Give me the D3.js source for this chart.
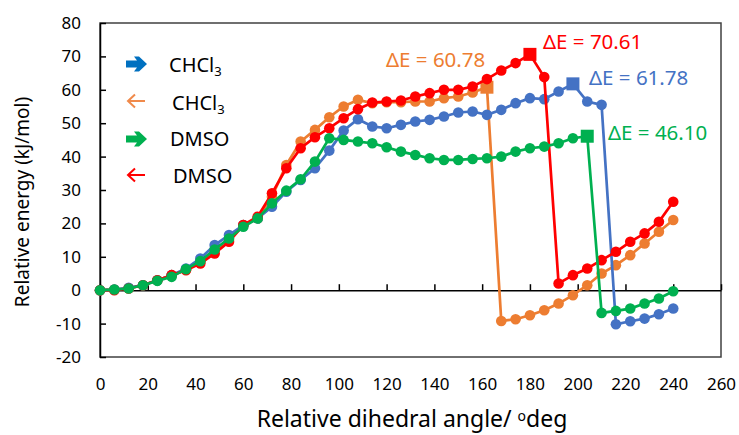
<!DOCTYPE html>
<html>
<head>
<meta charset="utf-8">
<script src="https://cdn.jsdelivr.net/npm/d3@7"></script>
<style>
    body { margin: 0; background: #fff; }
    svg { font-family: "Noto Sans", "Open Sans", sans-serif; }
</style>
</head>
<body>
<svg id="chart" width="739" height="435"></svg>
<script>
// dihedral angles, 6 deg steps
const angles = [0, 6, 12, 18, 24, 30, 36, 42, 48, 54, 60, 66, 72, 78, 84, 90, 96, 102, 108, 114,
    120, 126, 132, 138, 144, 150, 156, 162, 168, 174, 180, 186, 192, 198, 204, 210, 216, 222, 228, 234, 240];

// energies (kJ/mol)
const chcl3Fwd = [0, 0.2, 0.7, 1.5, 3, 4.5, 6.5, 9.5, 13.5, 16.5, 19.5, 21.5, 25, 29.5, 33, 36.5, 41.8, 47.8, 51.2, 49,
    48.5, 49.5, 50.5, 51, 52, 53.2, 53.5, 52.5, 54, 56, 57.5, 57.2, 59.5, 61.78, 56.5, 55.5, -10.2, -9.3, -8.5, -7.2, -5.5];
const chcl3Rev = [0, 0.2, 0.6, 1.5, 3, 4.5, 6.2, 8.5, 12, 15, 19.5, 21.5, 28, 37.5, 44.5, 48, 51.8, 55, 57, 56,
    56.3, 56.3, 56.5, 56.5, 57.5, 58, 59.2, 60.78, -9.2, -8.7, -7.5, -6, -4, -1.5, 1.5, 5, 7.5, 10.5, 14, 17.5, 21];
const dmsoRev = [0, 0, 0.5, 1.5, 3, 4.5, 6, 8, 11, 14.5, 19.5, 22, 29, 36.5, 42.5, 45.8, 48.5, 51.5, 54.2, 56.2,
    56.5, 56.8, 58, 59, 60, 60, 61, 63.2, 65.8, 68, 70.61, 63.8, 2, 4.5, 6.5, 9, 11.5, 14.5, 17, 20.5, 26.5];
const dmsoFwd = [0, 0.2, 0.5, 1.5, 2.8, 4, 6.3, 8.7, 12.2, 15.5, 19, 21.5, 26, 29.8, 33.2, 38.5, 45.5, 45, 44.5, 44,
    42.8, 41.5, 40.5, 39.5, 39, 39, 39.3, 39.5, 40, 41.5, 42.5, 43, 44, 45.5, 46.1, -6.8, -6.2, -5.5, -4, -2.5, -0.3];

const xTicks = [0, 20, 40, 60, 80, 100, 120, 140, 160, 180, 200, 220, 240, 260];
const yTicks = [-20, -10, 0, 10, 20, 30, 40, 50, 60, 70, 80];

// drawing order: orange, blue, red, green
const series = [
    {name: "CHCl3", dir: "rev", values: chcl3Rev, color: "#ED7D31", label: "\u0394E = 60.78", lx: 386, ly: 67},
    {name: "CHCl3", dir: "fwd", values: chcl3Fwd, color: "#4472C4", label: "\u0394E = 61.78", lx: 589, ly: 85},
    {name: "DMSO", dir: "rev", values: dmsoRev, color: "#FF0000", label: "\u0394E = 70.61", lx: 543, ly: 49},
    {name: "DMSO", dir: "fwd", values: dmsoFwd, color: "#00B050", label: "\u0394E = 46.10", lx: 608, ly: 140}
];

const legendItems = [
    {text: "CHCl", sub: "3", heavy: true, color: "#0070C0", cy: 64, tx: 169, ty: 72},
    {text: "CHCl", sub: "3", heavy: false, color: "#F08A4B", cy: 101, tx: 172, ty: 110},
    {text: "DMSO", sub: "", heavy: true, color: "#00B050", cy: 139, tx: 170, ty: 146},
    {text: "DMSO", sub: "", heavy: false, color: "#FF0000", cy: 175, tx: 173, ty: 183}
];

const svg = d3.select("#chart");
const x = d3.scaleLinear().domain([0, 260]).range([100, 721]);
const y = d3.scaleLinear().domain([-20, 80]).range([357, 23]);
const plain = function (d) { return String(d); };  // keep "-" not the unicode minus

// plot area frame
svg.append("rect")
    .attr("x", x(0)).attr("y", y(80))
    .attr("width", x(260) - x(0)).attr("height", y(-20) - y(80))
    .attr("fill", "none").attr("stroke", "#404040").attr("stroke-width", 1.5);

// y axis, ticks pointing inward
const yAxis = svg.append("g")
    .attr("transform", "translate(" + x(0) + ",0)")
    .call(d3.axisLeft(y).tickValues(yTicks).tickFormat(plain).tickSizeInner(-6).tickSizeOuter(0).tickPadding(19));
yAxis.select(".domain").attr("stroke", "#000").attr("stroke-width", 1.5);
yAxis.selectAll(".tick line").attr("stroke", "#000").attr("stroke-width", 1.5);
yAxis.selectAll("text").attr("font-size", 17).attr("fill", "#000").attr("font-family", "Noto Sans");

// x axis line sits on zero, labels below the frame
const xAxis = svg.append("g")
    .attr("transform", "translate(0," + y(0) + ")")
    .call(d3.axisBottom(x).tickValues(xTicks).tickSizeInner(-6).tickSizeOuter(0).tickFormat(""));
xAxis.select(".domain").attr("stroke", "#000").attr("stroke-width", 1.5);
xAxis.selectAll(".tick line").attr("stroke", "#000").attr("stroke-width", 1.5);

const xLabels = svg.append("g")
    .attr("transform", "translate(0," + y(-20) + ")")
    .call(d3.axisBottom(x).tickValues(xTicks).tickFormat(plain).tickSize(0).tickPadding(21));
xLabels.select(".domain").remove();
xLabels.selectAll("text").attr("font-size", 17).attr("fill", "#000").attr("font-family", "Noto Sans");

// axis titles
svg.append("text")
    .attr("transform", "translate(29,202) rotate(-90)")
    .attr("text-anchor", "middle")
    .attr("font-size", 19)
    .text("Relative energy (kJ/mol)");

const xt = svg.append("text")
    .attr("x", 412).attr("y", 427)
    .attr("text-anchor", "middle")
    .attr("font-size", 23);
xt.append("tspan").text("Relative dihedral angle/ ");
xt.append("tspan").attr("font-size", 14).attr("dy", -6).text("o");
xt.append("tspan").attr("dy", 6).text("deg");

// series
const line = d3.line()
    .x(function (d) { return x(d.a); })
    .y(function (d) { return y(d.v); });

series.forEach(function (s) {
    const g = svg.append("g");
    const peak = d3.maxIndex(s.values);
    const pts = s.values.map(function (v, i) { return {a: angles[i], v: v, i: i}; });
    g.append("path")
        .datum(pts)
        .attr("d", line)
        .attr("fill", "none")
        .attr("stroke", s.color)
        .attr("stroke-width", 2.7);
    g.selectAll("circle")
        .data(pts.filter(function (d) { return d.i !== peak; }))
        .enter().append("circle")
        .attr("cx", function (d) { return x(d.a); })
        .attr("cy", function (d) { return y(d.v); })
        .attr("r", 5.3)
        .attr("fill", s.color);
    g.append("rect")
        .attr("x", x(angles[peak]) - 6.5).attr("y", y(s.values[peak]) - 6.5)
        .attr("width", 13).attr("height", 13)
        .attr("fill", s.color);
    svg.append("text")
        .attr("x", s.lx).attr("y", s.ly)
        .attr("font-size", 20.5)
        .attr("fill", s.color)
        .text(s.label);
});

// legend with arrows
legendItems.forEach(function (d) {
    const cy = d.cy;
    if (d.heavy) {
        svg.append("path")
            .attr("d", "M126," + (cy - 3.5) + " L137," + (cy - 3.5) + " L134," + (cy - 7.5) + " L139," + (cy - 7.5) +
                " L147," + cy + " L139," + (cy + 7.5) + " L134," + (cy + 7.5) + " L137," + (cy + 3.5) + " L126," + (cy + 3.5) + " Z")
            .attr("fill", d.color);
    } else {
        svg.append("path")
            .attr("d", "M145," + cy + " L128," + cy + " M135," + (cy - 6.5) + " L128," + cy + " L135," + (cy + 6.5))
            .attr("fill", "none")
            .attr("stroke", d.color)
            .attr("stroke-width", 2);
    }
    const t = svg.append("text")
        .attr("x", d.tx).attr("y", d.ty)
        .attr("font-size", 20)
        .attr("fill", "#000");
    t.append("tspan").text(d.text);
    if (d.sub) {
        t.append("tspan").attr("font-size", 13).attr("dy", 4).text(d.sub);
    }
});
</script>
</body>
</html>
